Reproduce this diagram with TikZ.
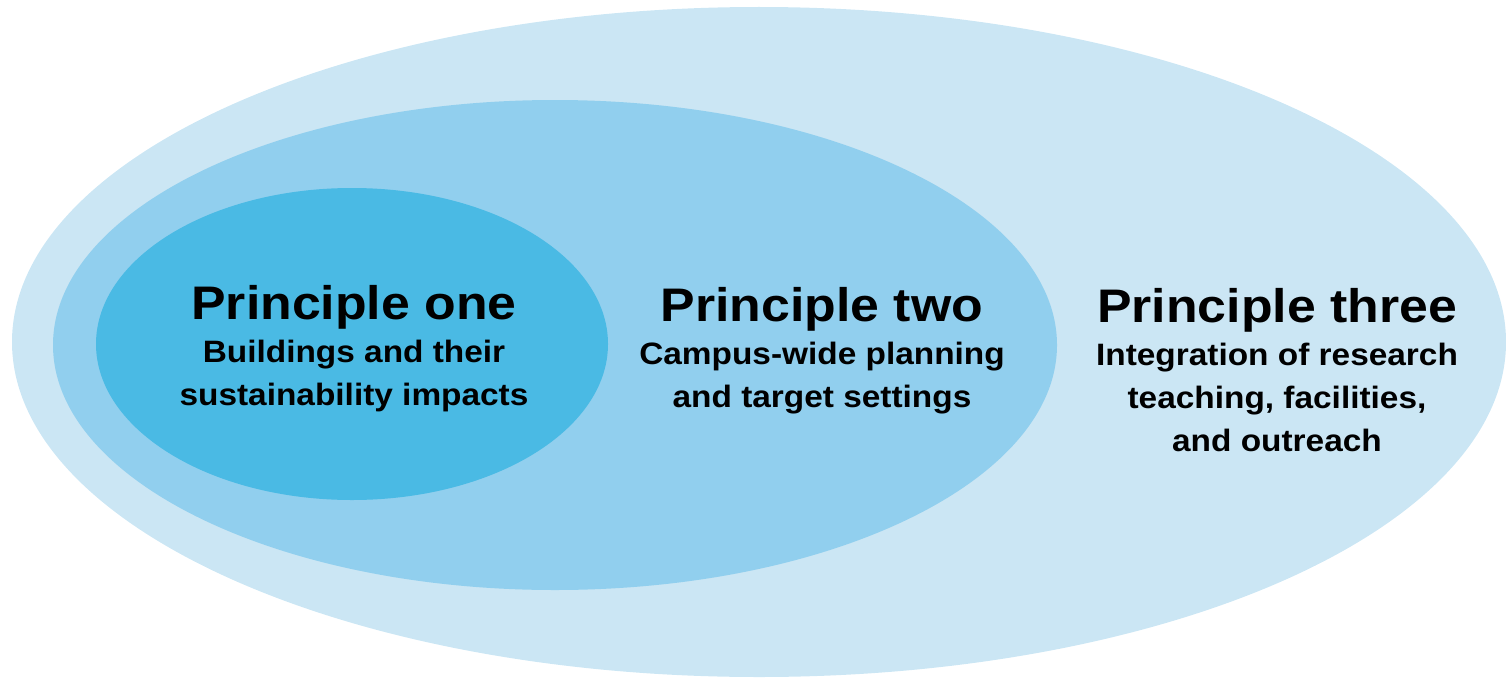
\documentclass[tikz,border=0pt]{standalone}
\usepackage{fontspec}
\setmainfont{Liberation Sans}
\newfontfamily\titlefont[FakeStretch=1.10]{Liberation Sans}
\newfontfamily\descfont[FakeStretch=1.08]{Liberation Sans}
\usetikzlibrary{positioning}
\usepackage{xcolor}

\definecolor{ringthree}{HTML}{CBE6F4}
\definecolor{ringtwo}{HTML}{91CFEE}
\definecolor{ringone}{HTML}{4ABAE4}

\tikzset{
    principle/.style={align=center, inner sep=0pt, anchor=north,
        font=\descfont\bfseries\fontsize{17.6}{24.5}\selectfont},
}
\newcommand{\ptitle}[1]{{\titlefont\bfseries\fontsize{26.8}{30}\selectfont #1}}

\begin{document}
\begin{tikzpicture}[x=0.02cm, y=-0.02cm]

    \useasboundingbox (0,0) rectangle (1506,679);

    % Zewnętrzna elipsa (zasada trzecia)
    \fill[ringthree] (759,342) ellipse [x radius=747, y radius=335];

    % Środkowa elipsa (zasada druga)
    \fill[ringtwo] (555,345) ellipse [x radius=502, y radius=245];

    % Wewnętrzna elipsa (zasada pierwsza)
    \fill[ringone] (352,344) ellipse [x radius=256, y radius=156];

    % Opisy zasad
    \node[principle] (one) at (354,285) {\ptitle{Principle one}\\
        Buildings and their\\ sustainability impacts};
    \node[principle] (two) at (822,287) {\ptitle{Principle two}\\
        Campus-wide planning\\ and target settings};
    \node[principle] (three) at (1277,288) {\ptitle{Principle three}\\
        Integration of research\\ teaching, facilities,\\ and outreach};

\end{tikzpicture}
\end{document}
